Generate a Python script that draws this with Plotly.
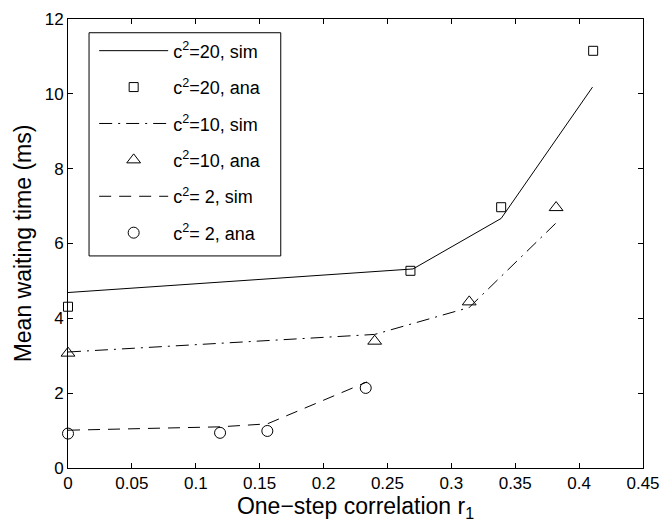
import plotly.graph_objects as go

# simulation curves
sim20_x = [0.0, 0.27, 0.339, 0.4105]
sim20_y = [4.69, 5.32, 6.67, 10.18]
sim10_x = [0.0, 0.24, 0.314, 0.382]
sim10_y = [3.10, 3.57, 4.29, 6.55]
sim2_x = [0.0, 0.119, 0.156, 0.234]
sim2_y = [1.01, 1.10, 1.18, 2.30]

# analytical points
ana20_x = [0.0, 0.268, 0.339, 0.411]
ana20_y = [4.31, 5.27, 6.97, 11.15]
ana10_x = [0.0, 0.240, 0.314, 0.382]
ana10_y = [3.07, 3.39, 4.44, 6.96]
ana2_x = [0.0, 0.119, 0.156, 0.233]
ana2_y = [0.92, 0.94, 0.99, 2.14]

x_ticks = [0, 0.05, 0.1, 0.15, 0.2, 0.25, 0.3, 0.35, 0.4, 0.45]
x_ticklabels = ["0", "0.05", "0.1", "0.15", "0.2", "0.25", "0.3", "0.35", "0.4", "0.45"]
y_ticks = [0, 2, 4, 6, 8, 10, 12]

FONT = "Liberation Sans, Arial, Helvetica, sans-serif"
BLACK = "#000000"

fig = go.Figure()

def line_trace(x, y, name, dash, grp):
    return go.Scatter(x=x, y=y, mode="lines", name=name, legendgroup=grp,
                      line=dict(color=BLACK, width=1, dash=dash))

def mark_trace(x, y, name, symbol, size, grp):
    return go.Scatter(x=x, y=y, mode="markers", name=name, legendgroup=grp,
                      cliponaxis=False,
                      marker=dict(symbol=symbol, size=size, color=BLACK,
                                  line=dict(color=BLACK, width=1)))

fig.add_trace(line_trace(sim20_x, sim20_y, "c<sup>2</sup>=20, sim", "solid", "a"))
fig.add_trace(mark_trace(ana20_x, ana20_y, "c<sup>2</sup>=20, ana", "square-open", 9, "b"))
fig.add_trace(line_trace(sim10_x, sim10_y, "c<sup>2</sup>=10, sim", "13px,6px,2px,6px", "c"))
fig.add_trace(mark_trace(ana10_x, ana10_y, "c<sup>2</sup>=10, ana", "triangle-up-open", 12, "d"))
fig.add_trace(line_trace(sim2_x, sim2_y, "c<sup>2</sup>= 2, sim", "12px,8px", "e"))
fig.add_trace(mark_trace(ana2_x, ana2_y, "c<sup>2</sup>= 2, ana", "circle-open", 11, "f"))

axis_common = dict(
    showline=True, linecolor=BLACK, linewidth=1, mirror="ticks",
    ticks="inside", ticklen=5, tickcolor=BLACK, tickwidth=1,
    showgrid=False, zeroline=False,
    tickfont=dict(family=FONT, size=17, color=BLACK),
)

fig.update_layout(
    width=670, height=531,
    margin=dict(l=68, r=20, t=10, b=63),
    paper_bgcolor="white", plot_bgcolor="white",
    font=dict(family=FONT, color=BLACK),
    xaxis=dict(range=[0, 0.45], tickvals=x_ticks, ticktext=x_ticklabels,
               title=dict(text="One\u2212step correlation r<sub>1</sub>",
                          font=dict(family=FONT, size=23, color=BLACK), standoff=4),
               **axis_common),
    yaxis=dict(range=[0, 12], tickvals=y_ticks,
               title=dict(text="Mean waiting time (ms)",
                          font=dict(family=FONT, size=23, color=BLACK), standoff=6),
               **axis_common),
    legend=dict(x=0.0455, y=0.970, xanchor="left", yanchor="top",
                borderwidth=0, bgcolor="rgba(0,0,0,0)",
                font=dict(family=FONT, size=18, color=BLACK),
                tracegroupgap=10, itemwidth=69),
    showlegend=True,
    shapes=[dict(type="rect", xref="paper", yref="paper",
                 x0=0.0366, x1=0.370, y0=0.4723, y1=0.9694,
                 line=dict(color=BLACK, width=1), fillcolor="white", layer="above")],
)

fig.write_html("out.html")
